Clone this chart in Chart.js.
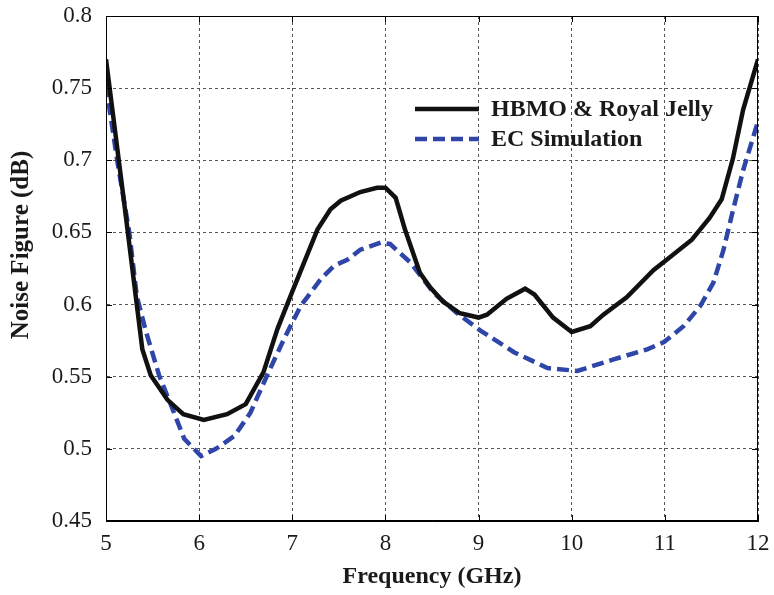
<!DOCTYPE html>
<html>
<head>
<meta charset="utf-8">
<script src="https://cdn.jsdelivr.net/npm/chart.js@4.4.0/dist/chart.umd.min.js"></script>
<style>
  html, body { margin: 0; padding: 0; background: #fff; }
  #wrap { width: 774px; height: 595px; }
</style>
</head>
<body>
<div id="wrap"><canvas id="nfChart" width="774" height="595"></canvas></div>
<script>
// axis ticks
const freqTicks = [5, 6, 7, 8, 9, 10, 11, 12];
const nfTicks = [0.45, 0.5, 0.55, 0.6, 0.65, 0.7, 0.75, 0.8];

// HBMO & Royal Jelly (solid black)
const hbmoFreq = [5.0, 5.2, 5.39, 5.48, 5.66, 5.83, 6.05, 6.3, 6.5, 6.69, 6.84, 7.0, 7.27, 7.41, 7.52, 7.73, 7.91, 8.0, 8.11, 8.21, 8.37, 8.48, 8.62, 8.8, 9.0, 9.09, 9.3, 9.5, 9.6, 9.8, 10.0, 10.2, 10.34, 10.59, 10.88, 11.02, 11.29, 11.48, 11.61, 11.73, 11.84, 12.0];
const hbmoNf = [0.770, 0.668, 0.569, 0.551, 0.534, 0.524, 0.520, 0.524, 0.531, 0.553, 0.583, 0.609, 0.652, 0.666, 0.672, 0.678, 0.681, 0.681, 0.674, 0.652, 0.622, 0.612, 0.602, 0.594, 0.591, 0.593, 0.604, 0.611, 0.607, 0.591, 0.581, 0.585, 0.593, 0.605, 0.624, 0.631, 0.645, 0.660, 0.673, 0.701, 0.735, 0.770];

// EC Simulation (dashed blue)
const ecFreq = [5.0, 5.12, 5.25, 5.33, 5.43, 5.57, 5.7, 5.84, 6.02, 6.18, 6.38, 6.55, 6.73, 6.91, 7.09, 7.31, 7.45, 7.59, 7.73, 7.95, 8.05, 8.27, 8.52, 8.77, 9.02, 9.38, 9.74, 10.06, 10.45, 10.81, 10.99, 11.2, 11.38, 11.52, 11.63, 11.73, 11.84, 12.0];
const ecNf = [0.752, 0.700, 0.650, 0.606, 0.581, 0.551, 0.530, 0.507, 0.495, 0.500, 0.509, 0.525, 0.551, 0.576, 0.599, 0.618, 0.627, 0.631, 0.638, 0.643, 0.642, 0.629, 0.608, 0.594, 0.582, 0.567, 0.556, 0.554, 0.562, 0.569, 0.574, 0.585, 0.599, 0.615, 0.638, 0.665, 0.693, 0.727];

const yTitle = 'Noise Figure (dB)';
const serif = '"Liberation Serif", "Times New Roman", serif';

const toPoints = (xs, ys) => xs.map((x, i) => ({ x: x, y: ys[i] }));

// box around the plot, inward ticks, y title and the legend inside the axes
const matlabBox = {
  id: 'matlabBox',
  afterDatasetsDraw(chart) {
    const { ctx, chartArea: a, scales } = chart;
    ctx.save();
    ctx.strokeStyle = '#000';
    ctx.lineWidth = 1;
    ctx.setLineDash([]);
    ctx.strokeRect(a.left + 0.5, a.top + 0.5, a.right - a.left - 1, a.bottom - a.top - 1);
    ctx.beginPath();
    freqTicks.forEach((t) => {
      const x = Math.round(scales.x.getPixelForValue(t)) + 0.5;
      ctx.moveTo(x, a.bottom); ctx.lineTo(x, a.bottom - 6);
      ctx.moveTo(x, a.top); ctx.lineTo(x, a.top + 6);
    });
    nfTicks.forEach((t) => {
      const y = Math.round(scales.y.getPixelForValue(t)) + 0.5;
      ctx.moveTo(a.left, y); ctx.lineTo(a.left + 6, y);
      ctx.moveTo(a.right, y); ctx.lineTo(a.right - 6, y);
    });
    ctx.stroke();

    // y axis title, sits a bit above the middle like the original figure
    ctx.save();
    ctx.translate(22, 245);
    ctx.rotate(-Math.PI / 2);
    ctx.fillStyle = '#1a1a1a';
    ctx.font = 'bold 25px ' + serif;
    ctx.textAlign = 'center';
    ctx.textBaseline = 'middle';
    ctx.fillText(yTitle, 0, 0);
    ctx.restore();

    // legend
    const lx = 415, ly = 109;
    chart.data.datasets.forEach((ds, i) => {
      const y = ly + i * 30;
      ctx.beginPath();
      ctx.strokeStyle = ds.borderColor;
      ctx.lineWidth = ds.borderWidth;
      ctx.setLineDash(ds.borderDash || []);
      ctx.moveTo(lx, y); ctx.lineTo(lx + 64, y);
      ctx.stroke();
      ctx.setLineDash([]);
      ctx.fillStyle = '#1a1a1a';
      ctx.font = 'bold 24px ' + serif;
      ctx.textBaseline = 'middle';
      ctx.fillText(ds.label, lx + 76, y + 1);
    });
    ctx.restore();
  }
};

const ctx = document.getElementById('nfChart').getContext('2d');
new Chart(ctx, {
  type: 'line',
  data: {
    datasets: [
      {
        label: 'HBMO & Royal Jelly',
        data: toPoints(hbmoFreq, hbmoNf),
        borderColor: '#111111',
        borderWidth: 4.5,
        pointRadius: 0,
        tension: 0,
        fill: false,
      },
      {
        label: 'EC Simulation',
        data: toPoints(ecFreq, ecNf),
        borderColor: '#2f45a8',
        borderWidth: 4.5,
        borderDash: [12, 6],
        pointRadius: 0,
        tension: 0,
        fill: false,
      },
    ],
  },
  options: {
    responsive: false,
    animation: false,
    layout: { padding: { top: 16, right: 16, left: 0, bottom: 0 } },
    plugins: { legend: { display: false }, tooltip: { enabled: false } },
    scales: {
      x: {
        type: 'linear',
        min: 5,
        max: 12,
        afterBuildTicks: (scale) => { scale.ticks = freqTicks.map((v) => ({ value: v })); },
        afterFit: (scale) => {
          scale.height = 74;
          scale.paddingLeft = 0;
          scale.paddingRight = 0;
        },
        grid: { color: '#555', lineWidth: 1, drawTicks: false },
        border: { display: true, color: '#000', dash: [3, 3] },
        ticks: {
          padding: 9,
          color: '#1a1a1a',
          font: { family: serif, size: 23 },
        },
        title: {
          display: true,
          text: 'Frequency (GHz)',
          color: '#1a1a1a',
          padding: { top: 2 },
          font: { family: serif, size: 24, weight: 'bold' },
        },
      },
      y: {
        type: 'linear',
        min: 0.45,
        max: 0.8,
        afterBuildTicks: (scale) => { scale.ticks = nfTicks.map((v) => ({ value: v })); },
        afterFit: (scale) => {
          scale.width = 106;
          scale.paddingTop = 0;
          scale.paddingBottom = 0;
        },
        grid: { color: '#555', lineWidth: 1, drawTicks: false },
        border: { display: true, color: '#000', dash: [3, 3] },
        ticks: {
          padding: 14,
          color: '#1a1a1a',
          callback: (v) => String(Math.round(v * 100) / 100),
          font: { family: serif, size: 23 },
        },
      },
    },
  },
  plugins: [matlabBox],
});
</script>
</body>
</html>
